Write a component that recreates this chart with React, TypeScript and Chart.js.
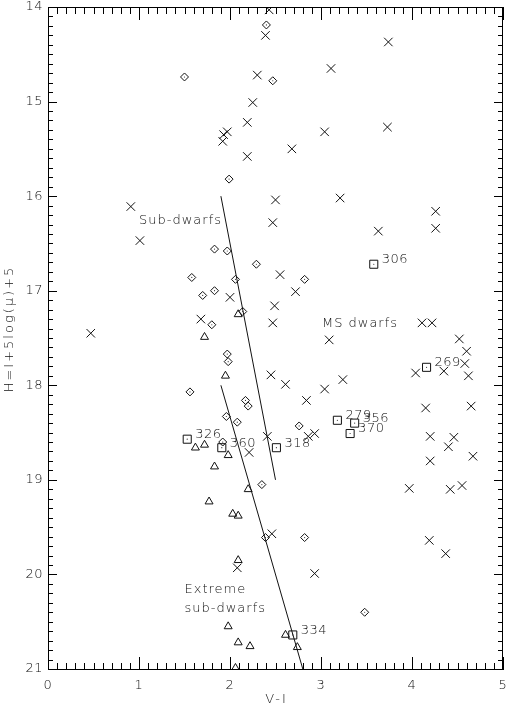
import React, { useEffect, useRef } from "react";
import { Chart, registerables } from "chart.js";

Chart.register(...registerables);

// ---- Data (V-I, H) ----
const crosses: [number, number][] = [
  [2.43, 14.03], [2.39, 14.3], [3.74, 14.37], [3.11, 14.65], [2.3, 14.72],
  [2.25, 15.01], [3.73, 15.27], [3.04, 15.32], [2.19, 15.22], [1.93, 15.35],
  [1.97, 15.32], [1.92, 15.42], [2.19, 15.58], [2.68, 15.5], [2.5, 16.04],
  [3.21, 16.02], [4.26, 16.16], [2.47, 16.28], [3.63, 16.37], [4.26, 16.34],
  [0.91, 16.11], [1.01, 16.47], [2.55, 16.83], [2.0, 17.07], [2.72, 17.01],
  [2.49, 17.16], [1.68, 17.3], [2.47, 17.34], [4.11, 17.34], [4.22, 17.34],
  [0.47, 17.45], [3.09, 17.52], [4.52, 17.51], [4.6, 17.64], [4.58, 17.77],
  [4.35, 17.85], [4.04, 17.87], [4.62, 17.9], [2.45, 17.89], [2.61, 17.99],
  [3.24, 17.94], [3.04, 18.04], [2.84, 18.16], [4.15, 18.24], [4.65, 18.22],
  [2.86, 18.54], [2.93, 18.51], [2.41, 18.54], [4.2, 18.54], [4.46, 18.55],
  [4.4, 18.65], [4.2, 18.8], [4.67, 18.75], [2.21, 18.71], [3.97, 19.09],
  [4.42, 19.1], [4.55, 19.06], [2.46, 19.57], [4.19, 19.64], [4.37, 19.78],
  [2.93, 19.99], [2.08, 19.93],
];

const diamonds: [number, number][] = [
  [1.5, 14.74], [2.4, 14.19], [2.47, 14.78], [1.99, 15.82], [1.83, 16.56],
  [1.97, 16.58], [2.29, 16.72], [1.58, 16.86], [2.06, 16.88], [2.82, 16.88],
  [1.83, 17.0], [1.7, 17.05], [2.14, 17.22], [1.8, 17.36], [1.97, 17.67],
  [1.98, 17.75], [1.56, 18.07], [2.17, 18.16], [2.2, 18.22], [1.96, 18.33],
  [2.08, 18.39], [1.92, 18.6], [2.76, 18.43], [2.35, 19.05], [2.39, 19.61],
  [2.82, 19.61], [3.48, 20.4],
];

const triangles: [number, number][] = [
  [2.09, 17.25], [1.72, 17.49], [1.95, 17.9], [1.62, 18.66], [1.72, 18.63],
  [1.98, 18.74], [1.83, 18.86], [2.2, 19.1], [1.77, 19.23], [2.03, 19.36],
  [2.09, 19.38], [2.09, 19.85], [1.98, 20.55], [2.09, 20.72], [2.22, 20.76],
  [2.61, 20.64], [2.74, 20.77], [2.06, 20.99],
];

const squares: [number, number][] = [
  [3.58, 16.72], [4.16, 17.81], [3.18, 18.37], [3.37, 18.4], [3.32, 18.51],
  [2.51, 18.66], [1.53, 18.57], [1.91, 18.66], [2.69, 20.64],
];
const squareLabels = ["306", "269", "279", "356", "370", "318", "326", "360", "334"];

const subDwarfLine: [number, number][] = [[1.9, 16.0], [2.5, 19.0]];
const extremeLine: [number, number][] = [[1.9, 18.0], [2.8, 21.0]];

const xTicks = [0, 1, 2, 3, 4, 5];
const yTicks = [14, 15, 16, 17, 18, 19, 20, 21];
const minorPerMajor = 10;

const annotations: { text: string; x: number; y: number }[] = [
  { text: "Sub-dwarfs", x: 1.0, y: 16.26 },
  { text: "MS dwarfs", x: 3.01, y: 17.35 },
  { text: "Extreme", x: 1.5, y: 20.16 },
  { text: "sub-dwarfs", x: 1.5, y: 20.36 },
];

const xTitle = "V-I";
const yTitle = "H=I+5log(\u03bc)+5";

const toXY = (a: [number, number][]) => a.map(([x, y]) => ({ x, y }));

const FONT = "'DejaVu Sans', sans-serif";
const W = 510;
const H = 709;

const idlFrame = {
  id: "idlFrame",
  afterDraw(chart: any) {
    const ctx: CanvasRenderingContext2D = chart.ctx;
    const a = chart.chartArea;
    const xs = chart.scales.x;
    const ys = chart.scales.y;
    ctx.save();
    ctx.globalAlpha = 1;
    ctx.globalCompositeOperation = "source-over";
    ctx.fillStyle = "#000";
    const L = Math.round(a.left);
    const R = Math.round(a.right) - 1;
    const T = Math.round(a.top);
    const B = Math.round(a.bottom);
    // frame
    ctx.fillRect(L, T, R - L + 1, 1);
    ctx.fillRect(L, B, R - L + 1, 1);
    ctx.fillRect(L, T, 1, B - T + 1);
    ctx.fillRect(R, T, 1, B - T + 1);

    const xMaj = 13;
    const xMin = 7;
    const yMaj = 9;
    const yMin = 5;
    const nx = (xTicks.length - 1) * minorPerMajor;
    for (let i = 0; i <= nx; i++) {
      const px = Math.round(xs.getPixelForValue(xTicks[0] + i / minorPerMajor));
      const len = i % minorPerMajor === 0 ? xMaj : xMin;
      ctx.fillRect(px, B - len + 1, 1, len);
      ctx.fillRect(px, T, 1, len);
    }
    const ny = (yTicks.length - 1) * minorPerMajor;
    for (let i = 0; i <= ny; i++) {
      const py = Math.round(ys.getPixelForValue(yTicks[0] + i / minorPerMajor));
      const len = i % minorPerMajor === 0 ? yMaj : yMin;
      ctx.fillRect(L, py, len, 1);
      ctx.fillRect(R - len + 1, py, len, 1);
    }

    // tick labels
    ctx.fillStyle = "#111";
    ctx.font = `200 13px ${FONT}`;
    (ctx as any).letterSpacing = "0.5px";
    ctx.textAlign = "center";
    ctx.textBaseline = "middle";
    xTicks.forEach((v) => {
      ctx.fillText(String(v), xs.getPixelForValue(v), a.bottom + 17);
    });
    ctx.textAlign = "right";
    yTicks.forEach((v) => {
      const p = Math.max(ys.getPixelForValue(v), 7);
      ctx.fillText(String(v), a.left - 5, p);
    });

    // axis titles
    (ctx as any).letterSpacing = "2px";
    ctx.textAlign = "center";
    ctx.fillText(xTitle, (a.left + a.right) / 2 + 1, a.bottom + 31);
    ctx.save();
    ctx.translate(10, (a.top + a.bottom) / 2 - 9);
    ctx.rotate(-Math.PI / 2);
    ctx.fillText(yTitle, 0, 0);
    ctx.restore();

    // annotations
    (ctx as any).letterSpacing = "1px";
    ctx.textAlign = "left";
    annotations.forEach((an) => {
      ctx.fillText(an.text, xs.getPixelForValue(an.x), ys.getPixelForValue(an.y));
    });

    // square labels
    (ctx as any).letterSpacing = "0.5px";
    squares.forEach(([x, y], i) => {
      ctx.fillText(squareLabels[i], xs.getPixelForValue(x) + 8, ys.getPixelForValue(y) - 4.5);
    });
    ctx.restore();
  },
};

export default function App() {
  const ref = useRef<HTMLCanvasElement | null>(null);
  useEffect(() => {
    if (!ref.current) return;
    const open = "rgba(0,0,0,0)";
    const ink = "#111";
    const chart = new Chart(ref.current, {
      type: "scatter",
      data: {
        datasets: [
          { label: "Sub-dwarf line", data: toXY(subDwarfLine), showLine: true, borderColor: ink, borderWidth: 1, pointRadius: 0 },
          { label: "Extreme line", data: toXY(extremeLine), showLine: true, borderColor: ink, borderWidth: 1, pointRadius: 0 },
          { label: "crosses", data: toXY(crosses), pointStyle: "crossRot", pointRadius: 6, borderColor: ink, backgroundColor: open, pointBorderWidth: 1 },
          { label: "diamonds", data: toXY(diamonds), pointStyle: "rectRot", pointRadius: 4, borderColor: ink, backgroundColor: open, pointBorderWidth: 1 },
          { label: "triangles", data: toXY(triangles), pointStyle: "triangle", pointRadius: 4.6, borderColor: ink, backgroundColor: open, pointBorderWidth: 1 },
          { label: "squares", data: toXY(squares), pointStyle: "rect", pointRadius: 5.7, borderColor: ink, backgroundColor: open, pointBorderWidth: 1 },
          { label: "dots", data: toXY([...diamonds, ...squares]), pointStyle: "circle", pointRadius: 0.6, borderWidth: 0, backgroundColor: "#333" },
        ],
      },
      options: {
        animation: false,
        responsive: false,
        devicePixelRatio: 1,
        events: [],
        layout: { padding: { left: 0, right: 4, top: 1, bottom: 0 } },
        plugins: { legend: { display: false }, tooltip: { enabled: false } },
        scales: {
          x: {
            type: "linear", min: 0, max: 5,
            ticks: { display: false, stepSize: 1 },
            grid: { display: false }, border: { display: false },
            afterFit: (s: any) => { s.height = 40; s.paddingLeft = 0; s.paddingRight = 0; },
          },
          y: {
            type: "linear", min: 14, max: 21, reverse: true,
            ticks: { display: false, stepSize: 1 },
            grid: { display: false }, border: { display: false },
            afterFit: (s: any) => { s.width = 48; s.paddingTop = 0; s.paddingBottom = 0; },
          },
        },
      } as any,
      plugins: [idlFrame],
    });
    return () => chart.destroy();
  }, []);

  return (
    <div style={{ position: "fixed", left: 0, top: 0, width: W, height: H, background: "#fff" }}>
      <canvas ref={ref} width={W} height={H} style={{ display: "block", width: W, height: H }} />
    </div>
  );
}
